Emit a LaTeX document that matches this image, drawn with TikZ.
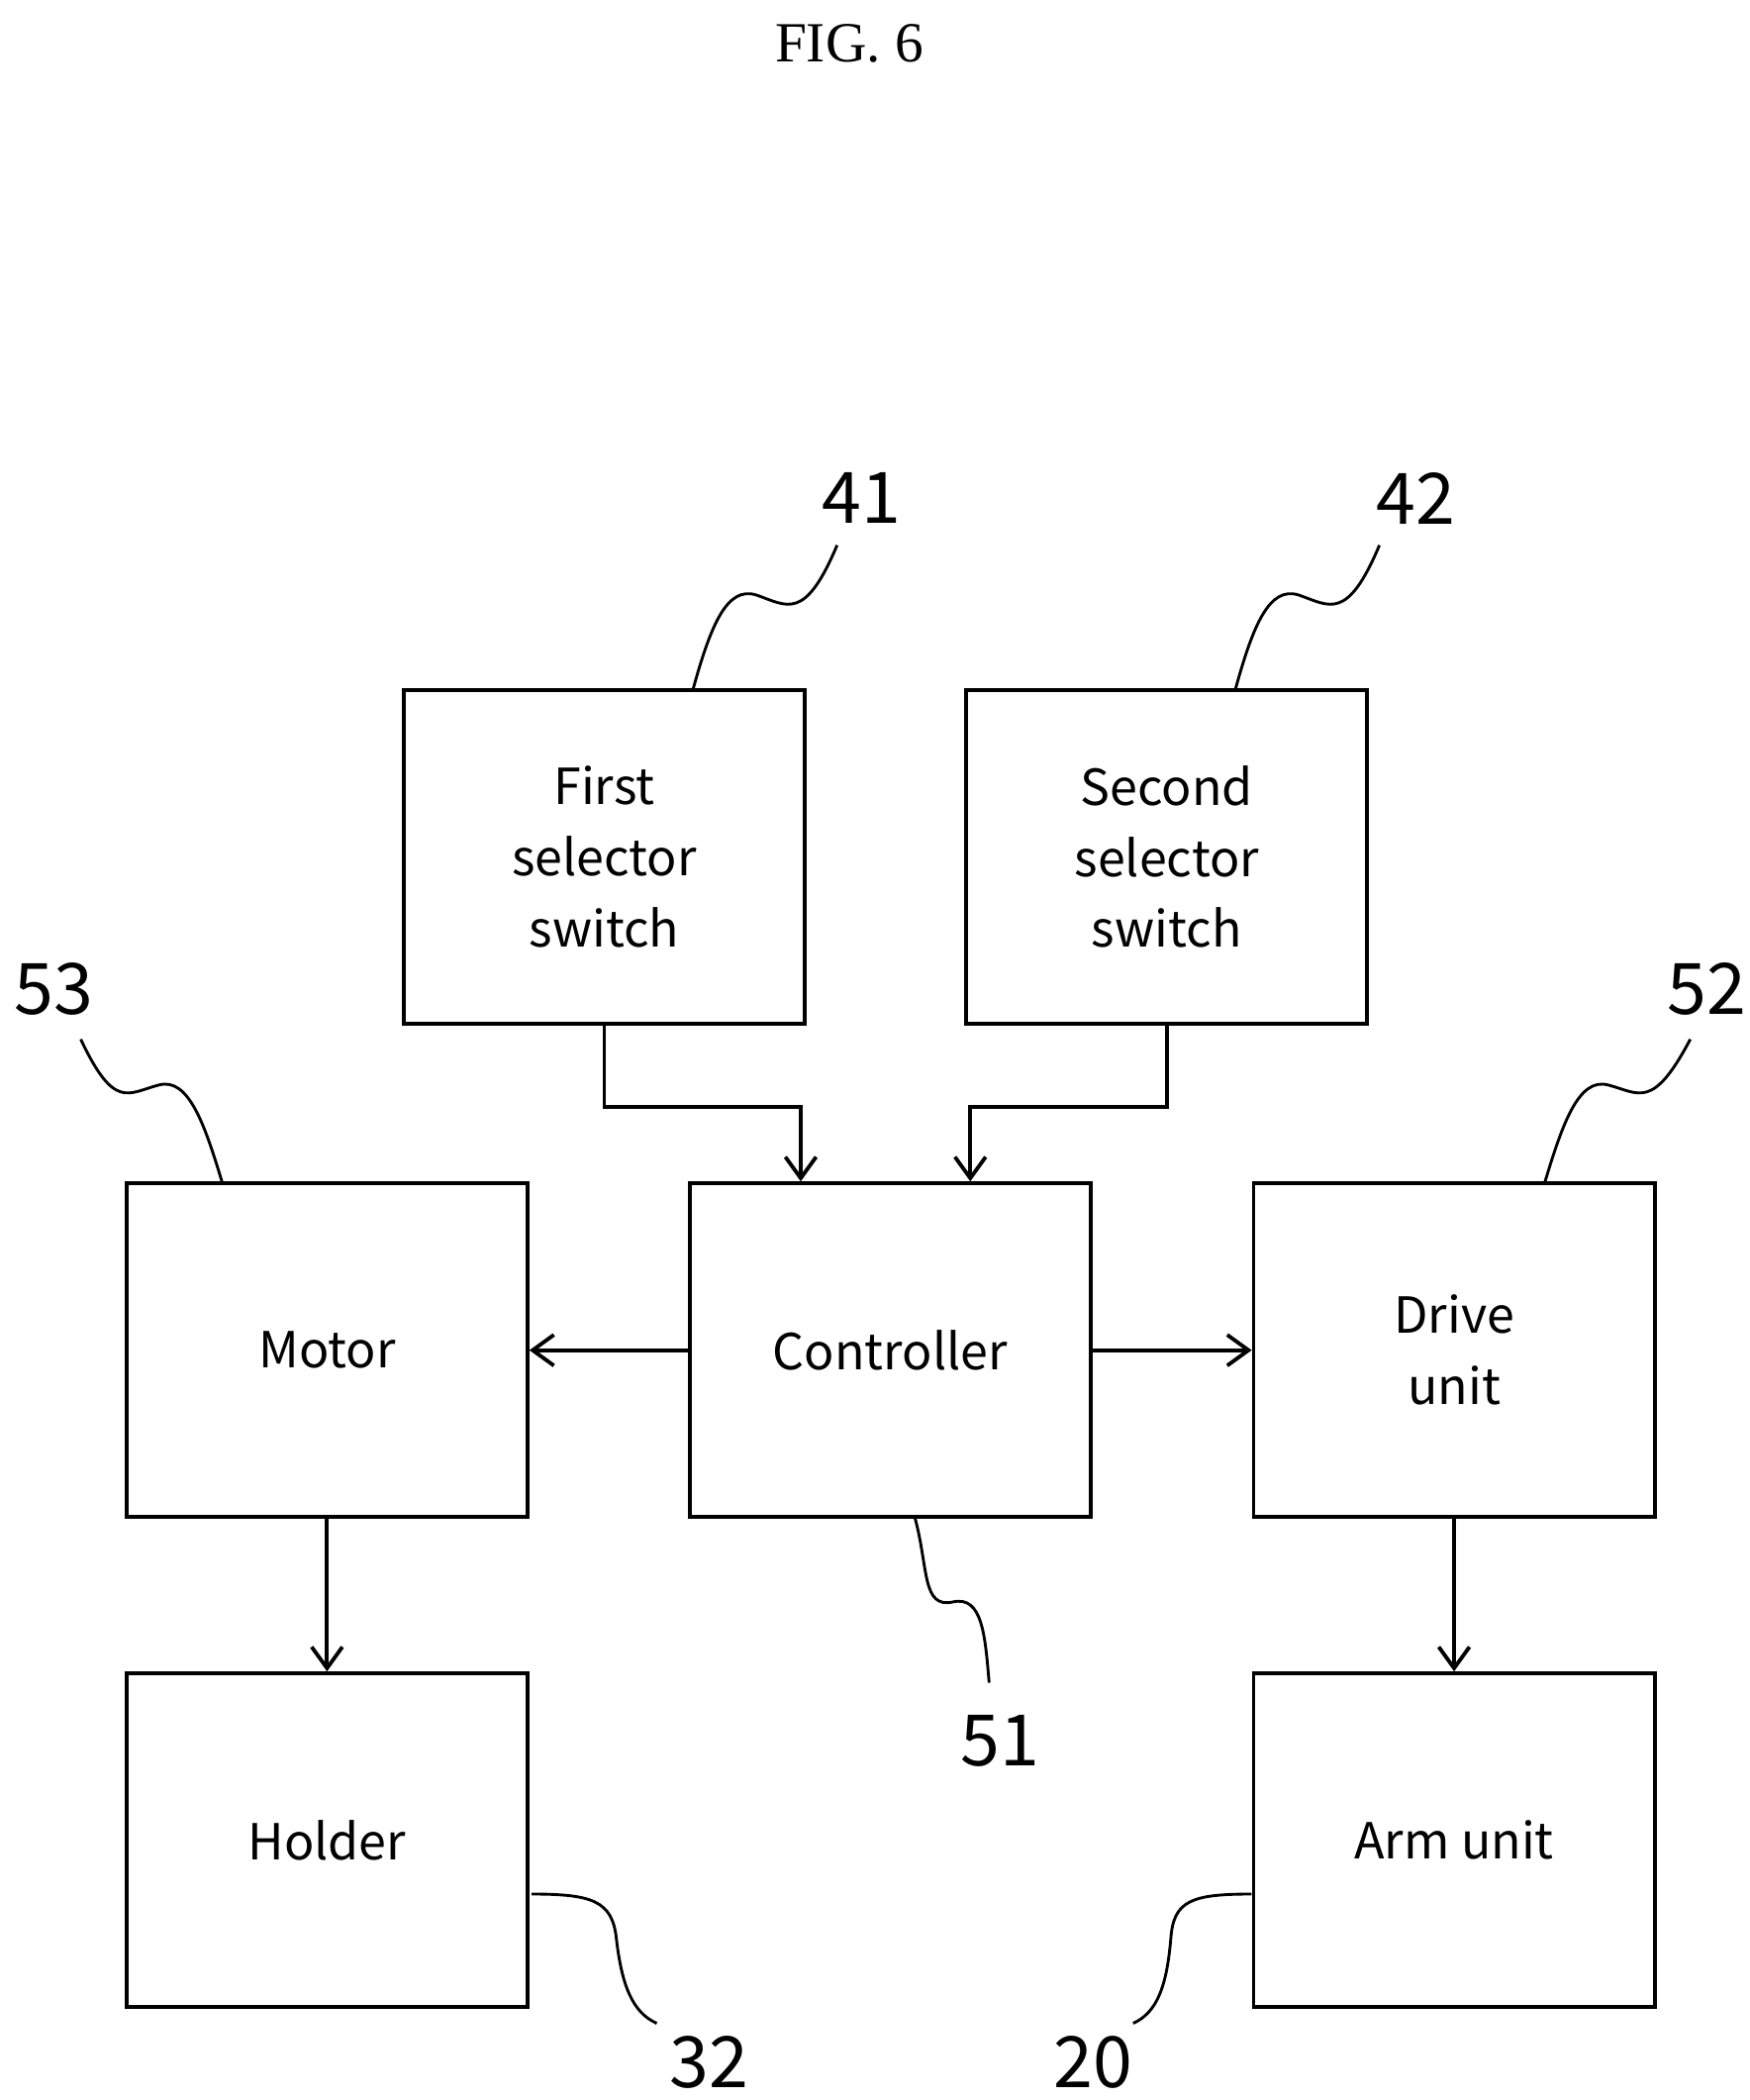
\documentclass[tikz,border=0pt]{standalone}
\usepackage{fontspec}
\setmainfont{Liberation Serif}
\newfontfamily\gfont{Noto Sans CJK JP}
\usetikzlibrary{arrows.meta}
\begin{document}
\begin{tikzpicture}[x=0.02cm,y=-0.02cm,
  box/.style={draw,line width=1.6pt,minimum width=5.96cm,minimum height=4.96cm,inner sep=0pt,align=center,font=\gfont\fontsize{21}{30}\selectfont},
  arr/.style={line width=1.6pt,-{Straight Barb[length=9pt,width=13pt,line width=1.6pt]}},
  lead/.style={line width=1.2pt},
  num/.style={font=\gfont\fontsize{30}{30}\selectfont}]
\useasboundingbox (0,0) rectangle (1300,1560);
\node[font=\fontsize{24}{24}\selectfont] (fig) at (631,32) {FIG. 6};
\node[box] (s1) at (449,636.5) {First\\selector\\switch};
\node[box] (s2) at (867,636.5) {Second\\selector\\switch};
\node[box] (mo) at (243,1003) {Motor};
\node[box] (co) at (661.5,1003) {Controller};
\node[box] (dr) at (1080.5,1003) {Drive\\unit};
\node[box] (ho) at (243,1367) {Holder};
\node[box] (ar) at (1080.5,1367) {Arm unit};
\coordinate (c1) at (595,822);
\coordinate (c2) at (721,822);
\draw[arr] (s1.south) |- (c1) -- (c1 |- co.north);
\draw[arr] (s2.south) |- (c2) -- (c2 |- co.north);
\draw[arr] (co.west) -- (mo.east);
\draw[arr] (co.east) -- (dr.west);
\draw[arr] (mo.south) -- (ho.north);
\draw[arr] (dr.south) -- (ar.north);
\node[num] (n41) at (640,370) {41};
\node[num] (n42) at (1052,370) {42};
\node[num] (n53) at (40,735) {53};
\node[num] (n52) at (1268,735) {52};
\node[num] (n51) at (743,1293) {51};
\node[num] (n32) at (527,1532) {32};
\node[num] (n20) at (812,1532) {20};
\coordinate (a41) at (515,512);
\coordinate (a42) at (918,512);
\coordinate (a53) at (165,878);
\coordinate (a52) at (1148,878);
\coordinate (a51) at (680,1128);
\coordinate (a32) at (395,1407);
\coordinate (a20) at (930,1407);
\draw[lead] (a41) .. controls (528,465) and (540,435) .. (562,442) .. controls (585,450) and (598,462) .. (622,405);
\draw[lead] (a42) .. controls (931,465) and (943,435) .. (965,442) .. controls (988,450) and (1001,462) .. (1025,405);
\draw[lead] (a53) .. controls (152,835) and (140,800) .. (118,806) .. controls (95,812) and (85,825) .. (60,772);
\draw[lead] (a52) .. controls (1161,835) and (1173,800) .. (1195,806) .. controls (1218,812) and (1228,825) .. (1256,772);
\draw[lead] (a51) .. controls (690,1165) and (685,1195) .. (708,1190) .. controls (730,1185) and (732,1215) .. (735,1250);
\draw[lead] (a32) .. controls (440,1407) and (455,1412) .. (458,1440) .. controls (462,1475) and (470,1495) .. (488,1503);
\draw[lead] (a20) .. controls (885,1407) and (872,1412) .. (870,1440) .. controls (867,1475) and (860,1495) .. (842,1503);
\end{tikzpicture}
\end{document}
